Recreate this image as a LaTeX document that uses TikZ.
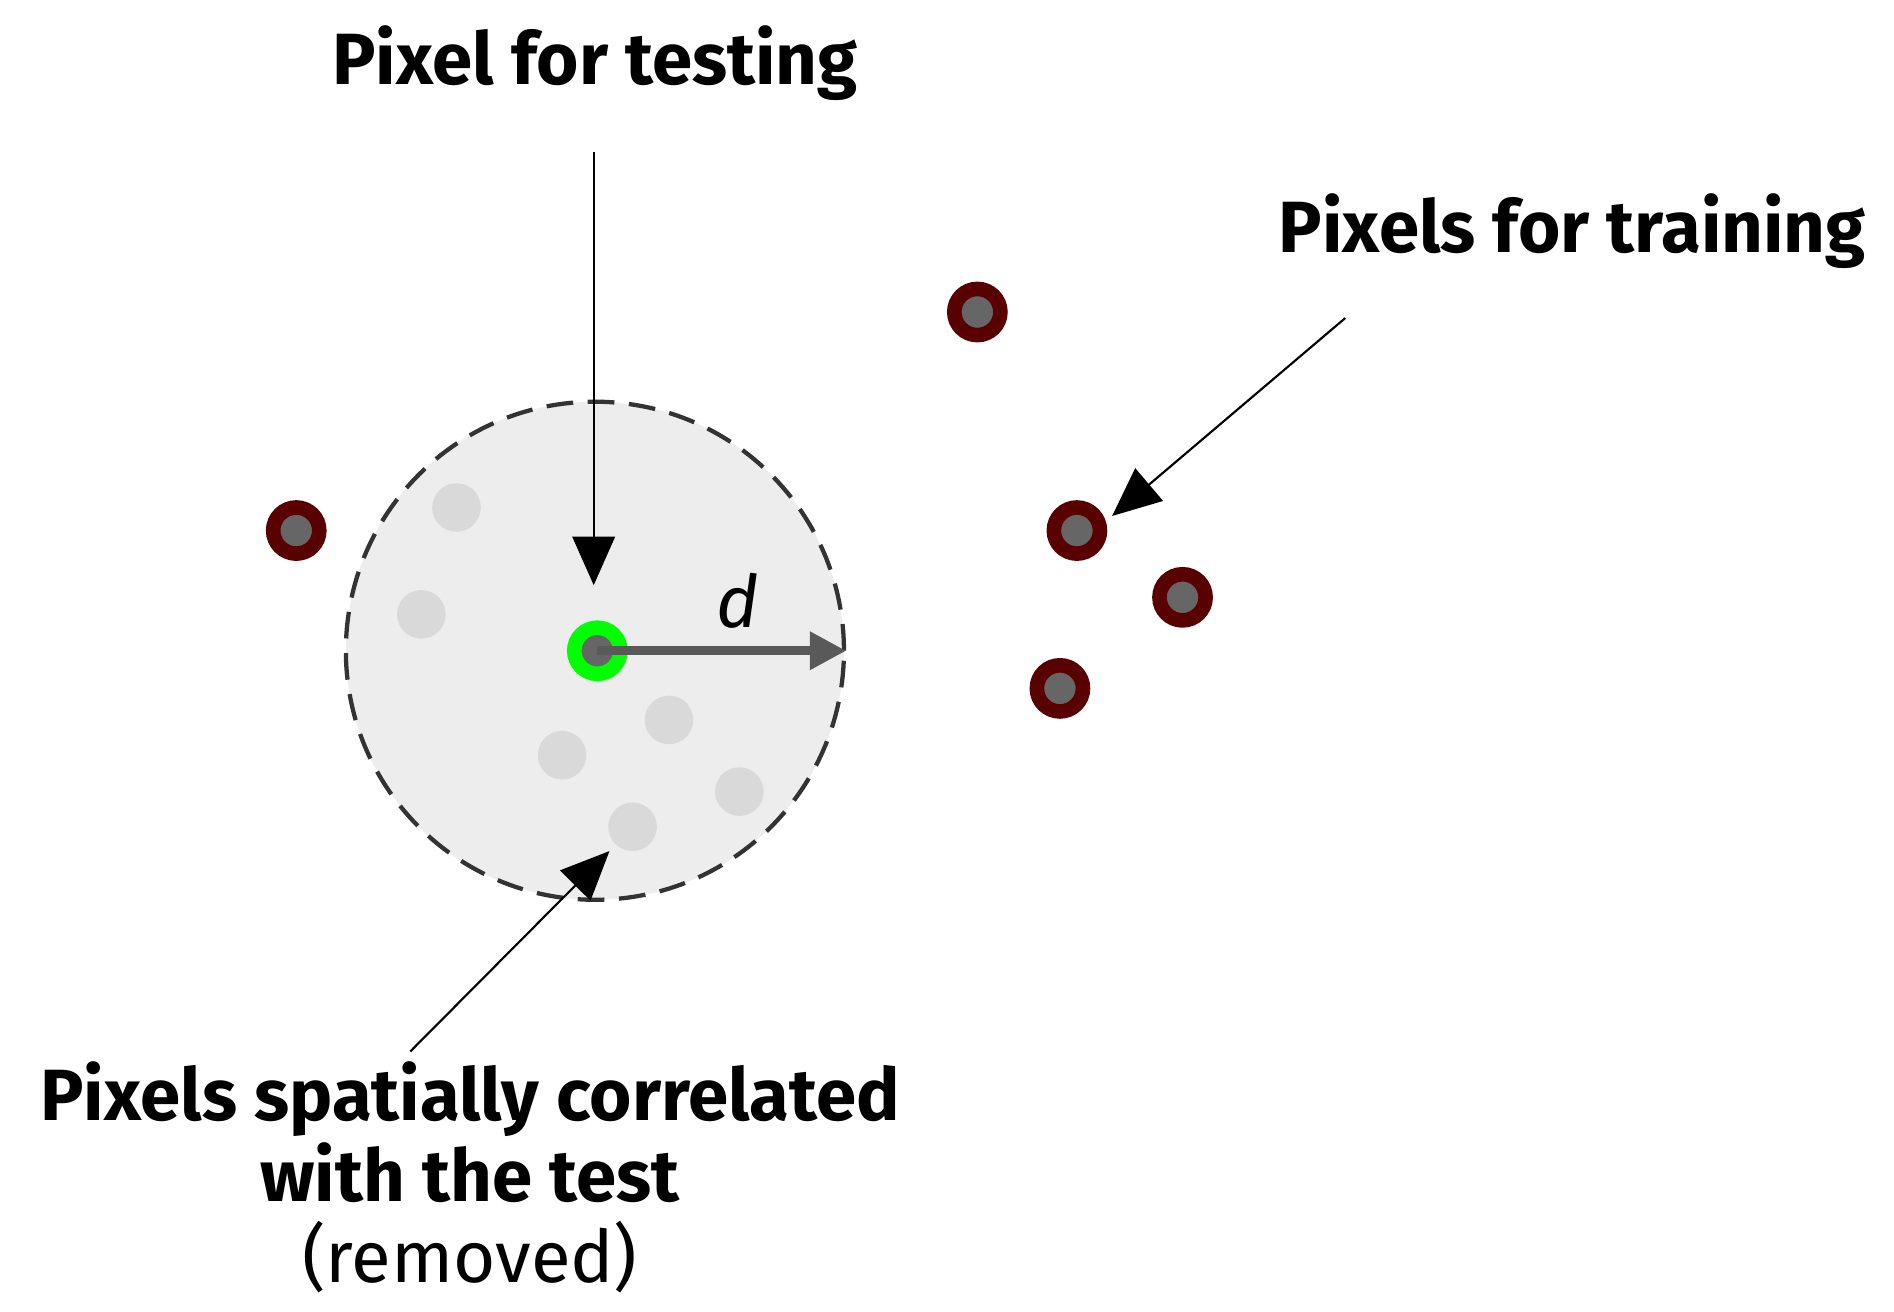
\documentclass[tikz,border=0pt]{standalone}
\usepackage{fontspec}
\setmainfont{Fira Sans}
\usetikzlibrary{arrows.meta}
\begin{document}
\begin{tikzpicture}[x=0.01cm,y=-0.01cm,
  lbl/.style={font=\fontsize{17}{19}\selectfont\bfseries, align=center},
  ptr/.style={line width=0.5pt, -{Triangle[length=0.4cm,width=0.35cm]}},
  removed/.style={circle, fill=black!15, minimum size=0.4cm, inner sep=0},
  train/.style={circle, fill=black!60, draw=red!35!black, line width=0.12cm, minimum size=0.38cm, inner sep=0},
  test/.style={circle, fill=black!60, draw=green, line width=0.12cm, minimum size=0.38cm, inner sep=0}]
\useasboundingbox (0,0) rectangle (1560,1080);
\node[circle, fill=black!7, draw=black!80, dash pattern=on 0.22cm off 0.12cm, line width=1pt, minimum size=4.1cm, inner sep=0] (zone) at (490,536) {};
\foreach \x/\y [count=\i] in {376/418,347/506,551/593,463/622,609/652,521/681}
  \node[removed] (r\i) at (\x,\y) {};
\node[test] (c) at (492,536) {};
\coordinate (edge) at (697,536);
\draw[black!65, line width=2pt, -{Triangle[length=0.3cm,width=0.3cm]}] (c.center) -- (edge);
\node[font=\fontsize{17}{19}\selectfont\itshape] (d) at (608,495) {d};
\foreach \x/\y [count=\i] in {805/257,244/437,887/437,974/492,873/567}
  \node[train] (t\i) at (\x,\y) {};
\node[lbl] (ptest) at (490,52) {Pixel for testing};
\coordinate (ptop) at (489,125);
\coordinate (pend) at (489,482);
\draw[ptr] (ptop) -- (pend);
\node[lbl] (ptrain) at (1295,190) {Pixels for training};
\coordinate (trs) at (1108,262);
\coordinate (tre) at (916,425);
\draw[ptr] (trs) -- (tre);
\node[lbl] (pcorr) at (387,970) {Pixels spatially correlated\\with the test\\{\mdseries (removed)}};
\coordinate (cs) at (338,866);
\coordinate (ce) at (502,701);
\draw[ptr] (cs) -- (ce);
\end{tikzpicture}
\end{document}
